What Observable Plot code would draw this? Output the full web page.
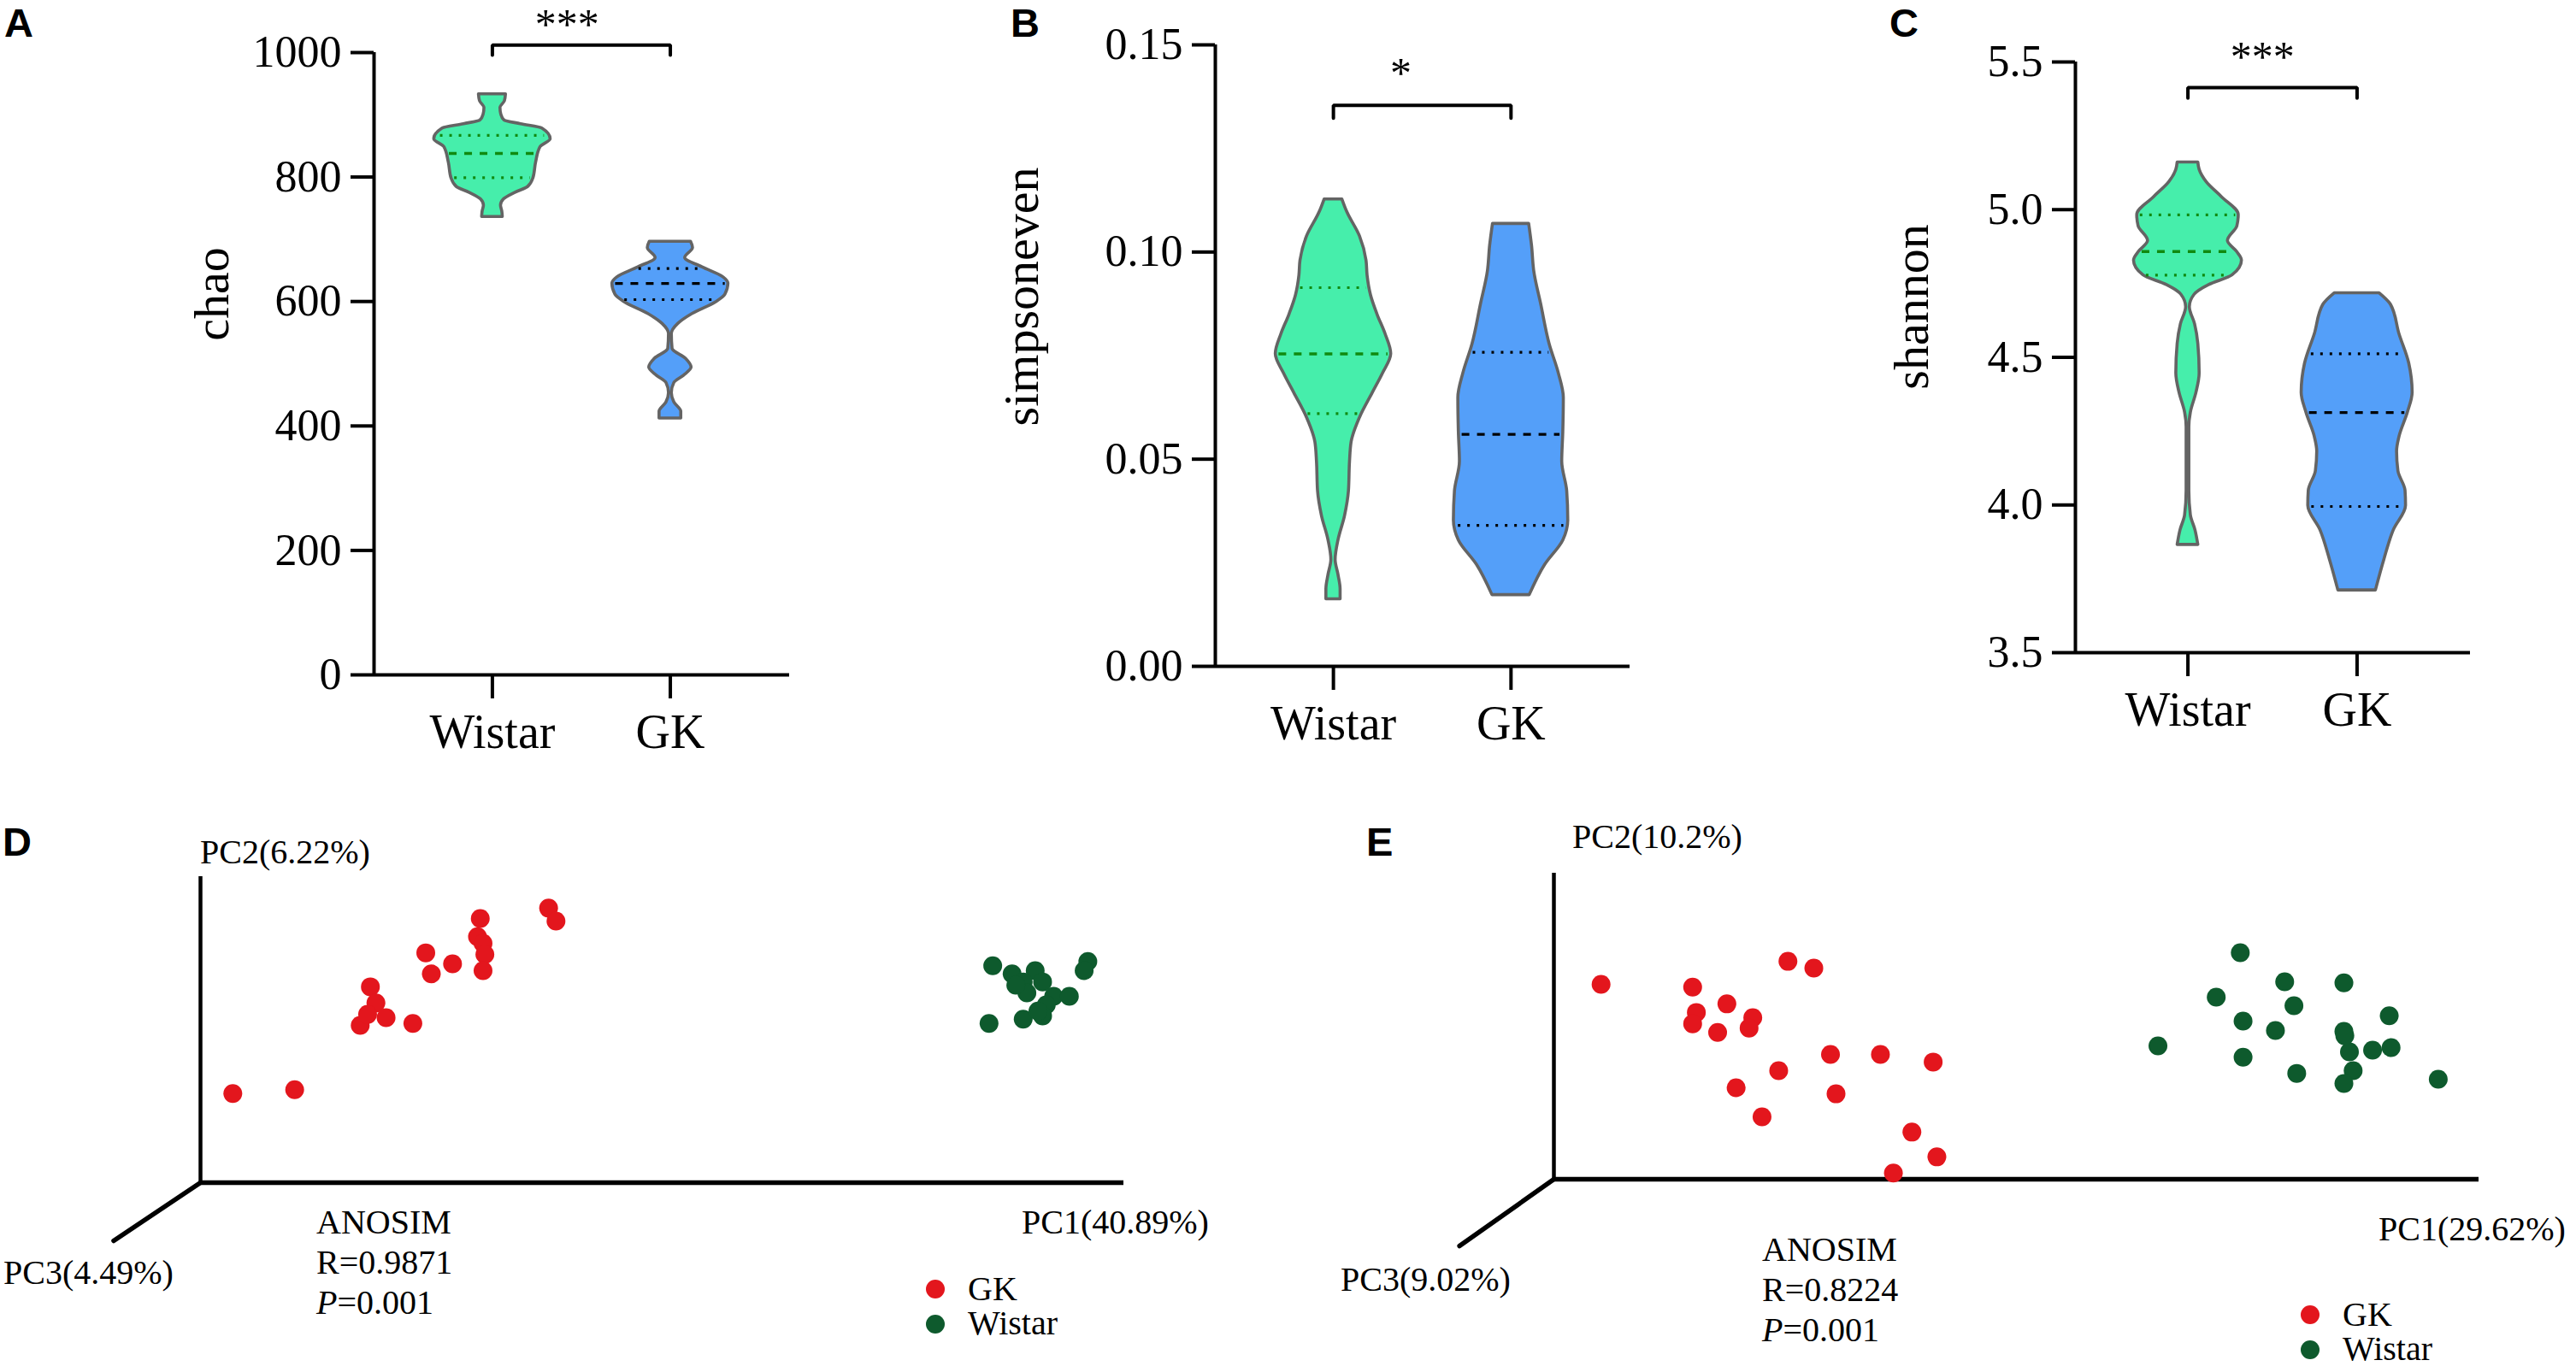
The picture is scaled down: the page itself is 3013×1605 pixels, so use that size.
<!DOCTYPE html>
<html>
<head>
<meta charset="utf-8">
<script src="https://cdn.jsdelivr.net/npm/d3@7"></script>
<script src="https://cdn.jsdelivr.net/npm/@observablehq/plot@0.6"></script>
<style>
  html, body { margin: 0; padding: 0; background: #fff; }
  #root { position: relative; width: 3013px; height: 1605px; overflow: hidden; background: #fff; }
  .slot { position: absolute; }
  .slot svg text { font-family: 'Liberation Serif', 'Times New Roman', serif; }
</style>
</head>
<body>
<div id="root"></div>
<script>
// ---------------- DATA ----------------
const groups = ["Wistar", "GK"];

// Panel A: chao  (violin profiles: [value, half-width in category units])
const chaoTicks = [0, 200, 400, 600, 800, 1000];
const chaoWistar = [[933,.076],[922,.07],[911,.045],[900,.05],[891,.068],[885,.16],[878,.28],[861,.327],[848,.27],[823,.245],[798,.23],[784,.2],[775,.13],[764,.064],[754,.048],[745,.055],[736,.058]];
const chaoGK = [[696,.116],[686,.127],[670,.083],[655,.18],[639,.298],[629,.326],[611,.309],[599,.257],[580,.124],[564,.044],[548,.008],[524,.012],[508,.088],[494,.119],[481,.077],[469,.022],[453,.008],[438,.022],[423,.061],[412,.061]];
const chaoWistarQ = [799, 838, 867];   // Q1, median, Q3
const chaoGKQ = [603, 629, 653];
const chaoSig = {label: "***", bar: 1012, tick: 996, x: 1.42, y: 1023};

// Panel B: simpsoneven
const simpTicks = [0, 0.05, 0.10, 0.15];
const simpWistar = [[.1127,.05],[.1097,.077],[.1038,.149],[.0979,.186],[.0943,.192],[.0896,.211],[.0849,.248],[.0801,.294],[.0754,.325],[.0707,.279],[.0659,.22],[.0600,.149],[.0541,.102],[.0494,.093],[.0423,.087],[.0363,.065],[.0304,.028],[.0257,.012],[.0221,.028],[.0186,.04],[.0162,.04]];
const simpGK = [[.1068,.102],[.1015,.118],[.0955,.13],[.0873,.17],[.0778,.217],[.0707,.269],[.0648,.297],[.0565,.294],[.0494,.288],[.0423,.316],[.0352,.322],[.0304,.294],[.0245,.192],[.0172,.105]];
const simpWistarQ = [0.0610, 0.0754, 0.0914];
const simpGKQ = [0.0340, 0.0560, 0.0758];
const simpSig = {label: "*", bar: 0.1354, tick: 0.1323, x: 1.38, y: 0.1397};

// Panel C: shannon
const shanTicks = [3.5, 4.0, 4.5, 5.0, 5.5];
const shanWistar = [[5.160,.061],[5.135,.069],[5.093,.111],[5.043,.2],[4.982,.3],[4.944,.292],[4.894,.236],[4.858,.289],[4.828,.319],[4.778,.264],[4.745,.125],[4.712,.039],[4.670,.011],[4.612,.042],[4.546,.061],[4.446,.069],[4.380,.05],[4.313,.017],[4.264,.008],[4.048,.008],[3.965,.017],[3.915,.044],[3.865,.061]];
const shanGK = [[4.717,.133],[4.678,.2],[4.579,.25],[4.479,.308],[4.380,.328],[4.313,.3],[4.230,.25],[4.181,.236],[4.114,.244],[4.048,.286],[3.998,.289],[3.915,.217],[3.815,.161],[3.711,.111]];
const shanWistarQ = [4.778, 4.858, 4.982];
const shanGKQ = [3.995, 4.313, 4.512];
const shanSig = {label: "***", bar: 5.413, tick: 5.378, x: 1.44, y: 5.471};

// Panel D: PCoA (PC1 vs PC2, scaled 0-100 along drawn axes)
const pcoaD_GK = [[3.5,29.1],[10.2,30.4],[17.3,51.4],[18.4,64.0],[19.0,58.7],[18.1,55.0],[20.1,53.9],[23.0,52.0],[24.4,75.1],[25.0,68.2],[27.3,71.5],[30.3,86.3],[30.0,80.4],[30.6,78.2],[30.8,74.6],[30.6,69.3],[37.7,89.7],[38.5,85.5]];
const pcoaD_Wistar = [[85.8,70.9],[87.9,68.2],[90.4,69.3],[89.1,65.6],[91.2,65.6],[89.5,62.0],[92.4,60.9],[94.1,60.9],[91.6,58.1],[91.2,54.5],[85.4,52.0],[89.1,53.4],[96.1,72.3],[95.7,69.3],[88.3,64.5],[90.7,56.1]];
const pcoaD_labels = ["PC1(40.89%)", "PC2(6.22%)", "PC3(4.49%)"];
const pcoaD_stats = ["ANOSIM", "R=0.9871", "0.001"];

// Panel E: PCoA
const pcoaE_GK = [[5.1,63.7],[15.0,62.8],[25.3,71.2],[28.1,69.0],[18.7,57.3],[15.4,54.5],[15.0,50.8],[17.7,48.0],[21.5,52.8],[21.1,49.4],[29.9,40.8],[35.3,40.8],[41.0,38.3],[24.3,35.5],[19.7,29.9],[30.5,27.9],[22.5,20.4],[38.7,15.4],[41.4,7.3],[36.7,2.0]];
const pcoaE_Wistar = [[74.2,74.0],[79.0,64.5],[85.4,64.2],[71.6,59.5],[80.0,56.7],[74.5,51.7],[78.0,48.6],[90.3,53.4],[85.4,48.3],[65.3,43.6],[74.5,39.9],[86.0,41.6],[88.5,42.2],[90.5,43.0],[86.4,35.5],[80.3,34.6],[85.4,31.3],[95.6,32.7],[85.5,46.9]];
const pcoaE_labels = ["PC1(29.62%)", "PC2(10.2%)", "PC3(9.02%)"];
const pcoaE_stats = ["ANOSIM", "R=0.8224", "0.001"];

// ---------------- STYLE ----------------
const SERIF = "'Liberation Serif', 'Times New Roman', serif";
const SANS = "'Liberation Sans', Arial, sans-serif";
const violinFill = ["#46EEAB", "#549FF9"];
const quartColor = ["#108A10", "#000000"];
const outline = "#646464";
const dotColors = {GK: "#E3161D", Wistar: "#0E5A2D"};
const xDomain = [0.335, 2.67];

const root = document.getElementById("root");
function place(node, left, top, width) {
  const d = document.createElement("div");
  d.className = "slot";
  d.style.left = left + "px";
  d.style.top = top + "px";
  d.style.width = width + "px";
  d.appendChild(node);
  root.appendChild(d);
}

function halfAt(profile, v) {
  for (let i = 0; i < profile.length - 1; i++) {
    const [v0, w0] = profile[i], [v1, w1] = profile[i + 1];
    if (v <= v0 && v >= v1) return w0 + (w1 - w0) * (v - v0) / (v1 - v0);
  }
  return 0;
}

function violinPanel({width, height, marginLeft, marginRight, marginTop, marginBottom, yDomain, yTicks, yFormat, profiles, quartiles, sig}) {
  const marks = [];
  const [lo, hi] = xDomain;
  profiles.forEach((p, i) => {
    const pos = i + 1;
    marks.push(Plot.areaX(p, {
      y: d => d[0], x1: d => pos - d[1], x2: d => pos + d[1],
      fill: violinFill[i], stroke: outline, strokeWidth: 3.6, curve: "monotone-y"
    }));
    const rows = quartiles[i].map((v, k) => ({v, k}));
    const inset = 0.018;
    marks.push(Plot.ruleY(rows.filter(r => r.k !== 1), {
      y: "v", x1: r => pos - halfAt(p, r.v) + inset, x2: r => pos + halfAt(p, r.v) - inset,
      stroke: quartColor[i], strokeWidth: 3.2, strokeDasharray: "3,8"
    }));
    marks.push(Plot.ruleY(rows.filter(r => r.k === 1), {
      y: "v", x1: r => pos - halfAt(p, r.v) + inset, x2: r => pos + halfAt(p, r.v) - inset,
      stroke: quartColor[i], strokeWidth: 3.4, strokeDasharray: "9,9"
    }));
  });
  marks.push(Plot.ruleX([lo], {y1: yDomain[0], y2: yDomain[1], strokeWidth: 4}));
  marks.push(Plot.ruleY([yDomain[0]], {x1: lo, x2: hi, strokeWidth: 4}));
  marks.push(Plot.axisY({ticks: yTicks, tickFormat: yFormat, tickSize: 27, tickPadding: 11, fontSize: 52, fontFamily: SERIF, strokeWidth: 4, label: null}));
  marks.push(Plot.axisX({ticks: [1, 2], tickFormat: d => groups[d - 1], tickSize: 28, tickPadding: 18, fontSize: 56, fontFamily: SERIF, strokeWidth: 4, label: null}));
  marks.push(Plot.line([[1, sig.tick], [1, sig.bar], [2, sig.bar], [2, sig.tick]], {x: d => d[0], y: d => d[1], strokeWidth: 4, strokeLinejoin: "miter"}));
  marks.push(Plot.text([sig], {x: "x", y: "y", text: "label", fontSize: 50, fontFamily: SERIF, lineAnchor: "bottom"}));
  return Plot.plot({
    width, height, marginLeft, marginRight, marginTop, marginBottom,
    x: {domain: xDomain, axis: null},
    y: {domain: yDomain, axis: null},
    style: {fontFamily: SERIF, fontSize: "52px", background: "transparent", overflow: "visible", color: "#000"},
    marks
  });
}

function pcoaPanel({width, height, marginLeft, marginRight, marginTop, marginBottom, gk, wistar, diag}) {
  return Plot.plot({
    width, height, marginLeft, marginRight, marginTop, marginBottom,
    x: {domain: [0, 100], axis: null},
    y: {domain: [0, 100], axis: null},
    style: {background: "transparent", overflow: "visible"},
    marks: [
      Plot.ruleX([0], {y1: 0, y2: 100, strokeWidth: 4.5, stroke: "#000"}),
      Plot.line([[0, 0], diag], {x: d => d[0], y: d => d[1], strokeWidth: 5.5, stroke: "#000"}),
      Plot.ruleY([0], {x1: 0, x2: 100, strokeWidth: 5.5, stroke: "#000"}),
      Plot.dot(gk, {x: d => d[0], y: d => d[1], r: 11, fill: dotColors.GK}),
      Plot.dot(wistar, {x: d => d[0], y: d => d[1], r: 11, fill: dotColors.Wistar})
    ]
  });
}

// ---------------- PANELS ----------------
place(violinPanel({
  width: 980, height: 900, marginLeft: 437, marginRight: 57, marginTop: 61, marginBottom: 111,
  yDomain: [0, 1000], yTicks: chaoTicks, yFormat: d3.format("d"),
  profiles: [chaoWistar, chaoGK], quartiles: [chaoWistarQ, chaoGKQ], sig: chaoSig
}), 0, 0, 980);

place(violinPanel({
  width: 980, height: 900, marginLeft: 421, marginRight: 74, marginTop: 52, marginBottom: 121,
  yDomain: [0, 0.15], yTicks: simpTicks, yFormat: d3.format(".2f"),
  profiles: [simpWistar, simpGK], quartiles: [simpWistarQ, simpGKQ], sig: simpSig
}), 1000, 0, 980);

place(violinPanel({
  width: 863, height: 900, marginLeft: 277, marginRight: 124, marginTop: 72, marginBottom: 137,
  yDomain: [3.5, 5.5], yTicks: shanTicks, yFormat: d3.format(".1f"),
  profiles: [shanWistar, shanGK], quartiles: [shanWistarQ, shanGKQ], sig: shanSig
}), 2150, 0, 863);

place(pcoaPanel({
  width: 1500, height: 665, marginLeft: 234, marginRight: 186, marginTop: 85, marginBottom: 222,
  gk: pcoaD_GK, wistar: pcoaD_Wistar, diag: [-9.4, -19.0]
}), 0, 940, 1500);

place(pcoaPanel({
  width: 1473, height: 665, marginLeft: 277, marginRight: 114, marginTop: 81, marginBottom: 226,
  gk: pcoaE_GK, wistar: pcoaE_Wistar, diag: [-10.2, -21.8]
}), 1540, 940, 1473);

// ---------------- TEXT OVERLAY ----------------
const svg = d3.create("svg").attr("width", 3013).attr("height", 1605)
  .style("position", "absolute").style("left", "0px").style("top", "0px").style("pointer-events", "none");

// panel letters
[["A", 5, 43], ["B", 1182, 43], ["C", 2210, 43], ["D", 3, 1001], ["E", 1598, 1001]].forEach(([t, x, y]) => {
  svg.append("text").attr("x", x).attr("y", y).attr("font-family", SANS).attr("font-weight", "bold")
    .attr("font-size", 47).text(t);
});

// y titles
[["chao", 267, 344], ["simpsoneven", 1214, 347], ["shannon", 2255, 359]].forEach(([t, x, y]) => {
  svg.append("text").attr("transform", `translate(${x},${y}) rotate(-90)`).attr("text-anchor", "middle")
    .attr("font-family", SERIF).attr("font-size", 58).text(t);
});

function pcoaText(labels, stats, pos) {
  const f = (t, x, y) => svg.append("text").attr("x", x).attr("y", y).attr("font-family", SERIF).attr("font-size", 40).text(t);
  f(labels[0], pos.pc1[0], pos.pc1[1]);
  f(labels[1], pos.pc2[0], pos.pc2[1]);
  f(labels[2], pos.pc3[0], pos.pc3[1]);
  f(stats[0], pos.stat[0], pos.stat[1]);
  f(stats[1], pos.stat[0], pos.stat[1] + 47);
  const p = svg.append("text").attr("x", pos.stat[0]).attr("y", pos.stat[1] + 94).attr("font-family", SERIF).attr("font-size", 40);
  p.append("tspan").attr("font-style", "italic").text("P");
  p.append("tspan").text("=" + stats[2]);
  // legend
  [["GK", 0], ["Wistar", 1]].forEach(([g, k]) => {
    svg.append("circle").attr("cx", pos.leg[0]).attr("cy", pos.leg[1] + k * 41 - 13).attr("r", 11).attr("fill", dotColors[g]);
    f(g, pos.leg[0] + 38, pos.leg[1] + k * 40);
  });
}
pcoaText(pcoaD_labels, pcoaD_stats, {pc1: [1195, 1443], pc2: [234, 1010], pc3: [4, 1502], stat: [370, 1443], leg: [1094, 1521]});
pcoaText(pcoaE_labels, pcoaE_stats, {pc1: [2782, 1451], pc2: [1839, 992], pc3: [1568, 1510], stat: [2061, 1475], leg: [2702, 1551]});

root.appendChild(svg.node());
</script>
</body>
</html>
